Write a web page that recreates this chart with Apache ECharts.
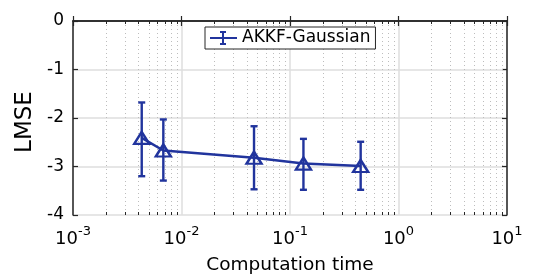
<!DOCTYPE html>
<html><head><meta charset="utf-8">
<script src="https://cdn.jsdelivr.net/npm/echarts@6/dist/echarts.min.js"></script>
<style>html,body{margin:0;padding:0;background:#fff}#c{width:560px;height:280px}</style>
</head><body><div id="c"></div>
<script>
const seriesName = 'AKKF-Gaussian';
const compTime = [0.0043, 0.0068, 0.0466, 0.133, 0.448];
const lmse = [-2.41, -2.67, -2.82, -2.94, -2.99];
const errLow = [-3.20, -3.29, -3.47, -3.48, -3.48];
const errHigh = [-1.68, -2.03, -2.17, -2.43, -2.49];
const xTickValues = [0.001, 0.01, 0.1, 1, 10];
const yTickValues = [0, -1, -2, -3, -4];
const xLabel = 'Computation time';
const yLabel = 'LMSE';

const FONT = 'DejaVu Sans';
const BLUE = '#21349d';
const AXIS = '#262626';

// minor grid positions (2..9 within each decade)
const minorX = [];
for (let i = 0; i < xTickValues.length - 1; i++) {
  for (let k = 2; k <= 9; k++) minorX.push(k * xTickValues[i]);
}

const chart = echarts.init(document.getElementById('c'), null, {renderer: 'canvas'});

const option = {
  backgroundColor: '#fff',
  animation: false,
  textStyle: {fontFamily: FONT},
  grid: {left: 73, right: 53, top: 21, bottom: 63, containLabel: false},
  legend: {
    data: [{name: seriesName, icon: 'path://M0 6H27V8H0Z M12 1H14V13H12Z M10 0H16V2H10Z M10 12H16V14H10Z'}],
    left: 205, top: 27,
    itemWidth: 27, itemHeight: 14,
    padding: [2, 5, 2, 5],
    borderColor: AXIS, borderWidth: 1, borderRadius: 0,
    backgroundColor: '#fff',
    textStyle: {fontFamily: FONT, fontSize: 17, color: '#000', lineHeight: 18},
    selectedMode: false,
    z: 20
  },
  xAxis: [{
    type: 'log', logBase: 10, min: xTickValues[0], max: xTickValues[xTickValues.length - 1],
    splitNumber: 4,
    position: 'bottom',
    name: xLabel, nameLocation: 'middle', nameGap: 41,
    nameTextStyle: {fontFamily: FONT, fontSize: 18.5, color: '#000'},
    axisLine: {show: true, lineStyle: {color: AXIS, width: 1.5}},
    axisTick: {show: true, inside: true, length: 5, lineStyle: {color: AXIS, width: 1.2}},
    splitLine: {show: true, lineStyle: {color: '#dedede', width: 1.5}},
    axisLabel: {
      margin: 10,
      color: '#000',
      formatter: v => '{b|10}{s|' + Math.round(Math.log10(v)) + '}',
      rich: {
        b: {fontFamily: FONT, fontSize: 18, color: '#000', padding: [5, 0, 0, 0]},
        s: {fontFamily: FONT, fontSize: 13, color: '#000', verticalAlign: 'top'}
      }
    }
  }, {
    type: 'log', logBase: 10, min: xTickValues[0], max: xTickValues[xTickValues.length - 1],
    splitNumber: 4,
    position: 'top',
    axisLine: {show: true, lineStyle: {color: AXIS, width: 1.5}},
    axisTick: {show: true, inside: true, length: 5, lineStyle: {color: AXIS, width: 1.2}},
    splitLine: {show: false},
    axisLabel: {show: false}
  }],
  yAxis: [{
    type: 'value', min: yTickValues[yTickValues.length - 1], max: yTickValues[0], interval: 1,
    position: 'left',
    name: yLabel, nameLocation: 'middle', nameGap: 21, nameRotate: 90,
    nameTextStyle: {fontFamily: FONT, fontSize: 23, color: '#000', padding: [0, 8, 0, 0]},
    axisLine: {show: true, lineStyle: {color: AXIS, width: 1.5}},
    axisTick: {show: true, inside: true, length: 5, lineStyle: {color: AXIS, width: 1.2}},
    splitLine: {show: true, lineStyle: {color: '#dedede', width: 1.5}},
    axisLabel: {fontFamily: FONT, fontSize: 17, color: '#000', margin: 9}
  }, {
    type: 'value', min: yTickValues[yTickValues.length - 1], max: yTickValues[0], interval: 1,
    position: 'right',
    axisLine: {show: true, lineStyle: {color: AXIS, width: 1.5}},
    axisTick: {show: true, inside: true, length: 5, lineStyle: {color: AXIS, width: 1.2}},
    splitLine: {show: false},
    axisLabel: {show: false}
  }],
  series: [{
    name: 'minor',
    type: 'custom',
    xAxisIndex: 0, yAxisIndex: 0,
    silent: true,
    z: 1,
    data: minorX.map(v => [v, -2]),
    renderItem: function (params, api) {
      const p = api.coord([api.value(0), -2]);
      const cs = params.coordSys;
      const x = Math.round(p[0]) + 0.5;
      const top = cs.y, bot = cs.y + cs.height;
      return {
        type: 'group',
        children: [
          {type: 'line', shape: {x1: x, y1: top, x2: x, y2: bot},
           style: {stroke: '#bdbdbd', lineWidth: 1, lineDash: [1, 3]}},
          {type: 'line', shape: {x1: x, y1: bot, x2: x, y2: bot - 3},
           style: {stroke: AXIS, lineWidth: 1}},
          {type: 'line', shape: {x1: x, y1: top, x2: x, y2: top + 3},
           style: {stroke: AXIS, lineWidth: 1}}
        ]
      };
    }
  }, {
    name: seriesName,
    type: 'custom',
    xAxisIndex: 0, yAxisIndex: 0,
    itemStyle: {color: BLUE},
    z: 5,
    data: compTime.map((t, i) => [t, errLow[i], errHigh[i]]),
    renderItem: function (params, api) {
      const lo = api.coord([api.value(0), api.value(1)]);
      const hi = api.coord([api.value(0), api.value(2)]);
      const w = 3.5;
      const st = {stroke: BLUE, lineWidth: 2.4};
      return {
        type: 'group',
        children: [
          {type: 'line', shape: {x1: lo[0], y1: lo[1], x2: hi[0], y2: hi[1]}, style: st},
          {type: 'line', shape: {x1: lo[0] - w, y1: lo[1], x2: lo[0] + w, y2: lo[1]}, style: st},
          {type: 'line', shape: {x1: hi[0] - w, y1: hi[1], x2: hi[0] + w, y2: hi[1]}, style: st}
        ]
      };
    }
  }, {
    name: 'mean',
    type: 'line',
    xAxisIndex: 0, yAxisIndex: 0,
    z: 6,
    data: compTime.map((t, i) => [t, lmse[i]]),
    symbol: 'triangle',
    symbolSize: [15, 12],
    lineStyle: {color: BLUE, width: 2.5},
    itemStyle: {color: 'rgba(0,0,0,0)', borderColor: BLUE, borderWidth: 2.4},
    emphasis: {disabled: true}
  }]
};
chart.setOption(option);
</script>
</body></html>
